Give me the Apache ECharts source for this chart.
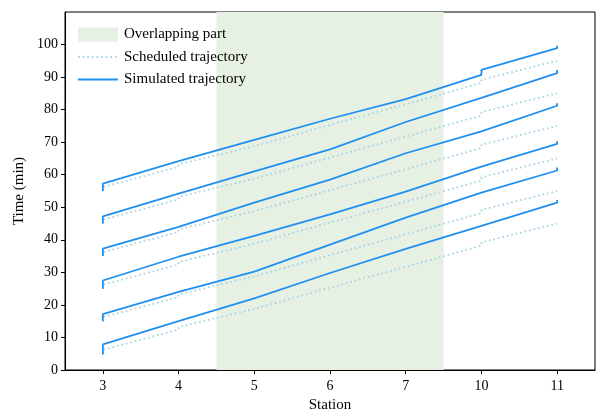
<!DOCTYPE html>
<html>
<head>
<meta charset="utf-8">
<script src="https://cdn.jsdelivr.net/npm/echarts@6/dist/echarts.min.js"></script>
<style>
  html, body { margin: 0; padding: 0; background: #fff; }
  #chart { width: 597px; height: 418px; }
</style>
</head>
<body>
<div id="chart"></div>
<script>
// stations on the x axis (plotted at index 0..6)
const stations = ["3", "4", "5", "6", "7", "10", "11"];
const yTicks = [0, 10, 20, 30, 40, 50, 60, 70, 80, 90, 100];
// overlapping part, in station index units (4.5 .. 7.5)
const overlap = [1.5, 4.5];

// scheduled trajectory: arrival / departure at each station (first train)
const schedArr = [5.0, 12.4, 18.8, 25.3, 31.7, 38.2, 45.0];
const schedDep = [6.2, 13.2, 19.4, 25.8, 32.3, 39.2, 45.0];
const headways = [0, 10, 20, 30, 40, 50];

// simulated trajectories: arrival / departure per train
const simArr = [
  [4.8, 15.0, 22.0, 29.8, 37.2, 44.3, 51.4],
  [15.0, 24.0, 30.2, 38.5, 46.8, 54.5, 61.3],
  [25.0, 34.8, 41.2, 47.8, 54.8, 62.5, 69.5],
  [35.0, 44.0, 51.4, 58.5, 66.6, 73.3, 81.2],
  [45.0, 54.2, 61.0, 67.8, 76.2, 83.6, 91.2],
  [55.0, 64.2, 70.7, 77.2, 83.2, 90.7, 98.9]
];
const simDep = [
  [7.9, 15.6, 22.5, 30.2, 37.7, 44.8, 52.2],
  [17.2, 24.5, 30.8, 39.0, 47.2, 55.0, 62.2],
  [27.5, 35.4, 41.7, 48.2, 55.3, 63.0, 70.3],
  [37.3, 44.6, 51.9, 59.0, 67.1, 73.8, 82.0],
  [47.2, 54.8, 61.5, 68.3, 76.8, 84.0, 92.2],
  [57.3, 64.8, 71.2, 77.6, 83.8, 92.2, 99.6]
];

function track(arr, dep) {
  const pts = [];
  for (let i = 0; i < arr.length; i++) {
    pts.push([i, arr[i]]);
    pts.push([i, dep[i]]);
  }
  return pts;
}

const font = "Liberation Serif";
const series = [];

series.push({
  name: "Overlapping part",
  type: "line",
  symbol: "none",
  data: [],
  itemStyle: { color: "#e6f1e4" },
  markArea: {
    silent: true,
    itemStyle: { color: "#e6f1e4" },
    data: [[{ xAxis: overlap[0] }, { xAxis: overlap[1] }]]
  }
});

headways.forEach(function (h) {
  series.push({
    name: "Scheduled trajectory",
    type: "line",
    symbol: "none",
    data: track(schedArr.map(v => v + h), schedDep.map(v => v + h)),
    itemStyle: { color: "#a9d6e5" },
    lineStyle: { color: "#a9d6e5", width: 1.8, type: [1.8, 2.8] }
  });
});

simArr.forEach(function (a, k) {
  series.push({
    name: "Simulated trajectory",
    type: "line",
    symbol: "none",
    data: track(a, simDep[k]),
    itemStyle: { color: "#1f8ff0" },
    lineStyle: { color: "#1f8ff0", width: 1.8 }
  });
});

// hide the circle ECharts puts on line legend icons
const noMarker = { color: "rgba(0,0,0,0)", opacity: 0, borderWidth: 0 };

const option = {
  animation: false,
  textStyle: { fontFamily: font },
  grid: { left: 65, right: 2, top: 12, bottom: 43, show: true, borderColor: "#000", borderWidth: 1 },
  legend: {
    orient: "vertical",
    left: 72,
    top: 22,
    itemWidth: 40,
    itemHeight: 14,
    itemGap: 7.5,
    textStyle: { fontFamily: font, fontSize: 15, color: "#000", padding: [0, 0, 0, 1] },
    data: [
      { name: "Overlapping part", icon: "rect" },
      { name: "Scheduled trajectory", itemStyle: noMarker },
      { name: "Simulated trajectory", itemStyle: noMarker }
    ]
  },
  xAxis: {
    type: "value",
    min: -0.5,
    max: 6.5,
    name: "Station",
    nameLocation: "middle",
    nameGap: 28,
    nameTextStyle: { fontFamily: font, fontSize: 15, color: "#000" },
    splitLine: { show: false },
    axisLine: { onZero: false, lineStyle: { color: "#000" } },
    axisTick: { show: true, length: 4, lineStyle: { color: "#000" }, customValues: stations.map((s, i) => i) },
    axisLabel: {
      color: "#000", fontSize: 14, fontFamily: font, margin: 9,
      customValues: stations.map((s, i) => i),
      formatter: v => stations[Math.round(v)]
    }
  },
  yAxis: {
    type: "value",
    min: 0,
    max: 110,
    name: "Time (min)",
    nameLocation: "middle",
    nameGap: 28,
    nameTextStyle: { fontFamily: font, fontSize: 15, color: "#000" },
    splitLine: { show: false },
    axisLine: { show: true, onZero: false, lineStyle: { color: "#000" } },
    axisTick: { show: true, length: 4, lineStyle: { color: "#000" }, customValues: yTicks },
    axisLabel: { color: "#000", fontSize: 14, fontFamily: font, margin: 7, customValues: yTicks }
  },
  series: series
};

const chart = echarts.init(document.getElementById("chart"));
chart.setOption(option);
</script>
</body>
</html>
